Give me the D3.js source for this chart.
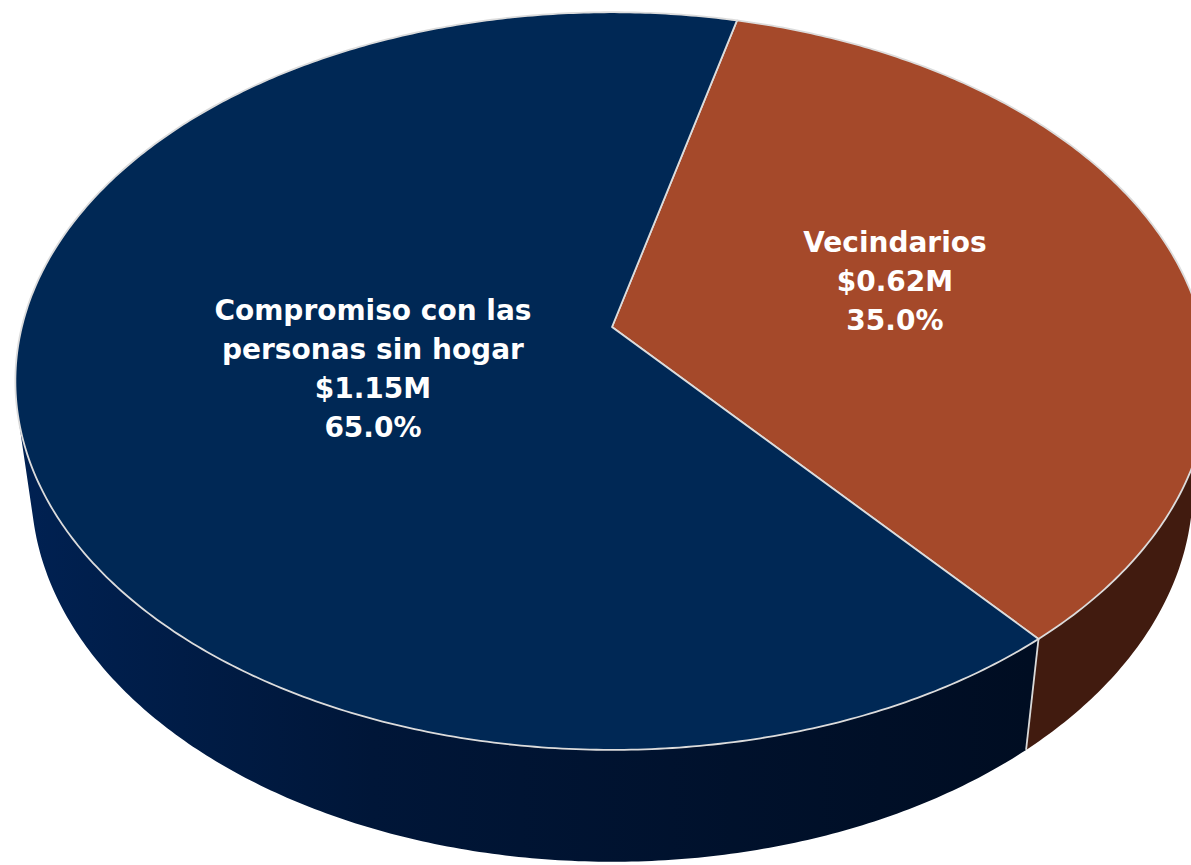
<!DOCTYPE html>
<html>
<head>
<meta charset="utf-8">
<script src="https://cdn.jsdelivr.net/npm/d3@7"></script>
<style>
  body { margin: 0; background: #fff; }
  .label { font-family: "DejaVu Sans", sans-serif; font-weight: bold; font-size: 28px; fill: #fff; }
</style>
</head>
<body>
<script>
(function(){

//chart data
var categories = ["Vecindarios", "Compromiso con las personas sin hogar"];
var labelLines = [["Vecindarios"], ["Compromiso con las", "personas sin hogar"]];
var amounts = [0.62, 1.15];          //millions of dollars
var percents = [35.0, 65.0];
var topColors = ["#a5492a", "#002855"];
var sideColors = ["#411b0f", "#001430"];

//frame
var width = 1191, height = 865;

//fake 3d camera (disk radius = 1, top face at Y = 0)
var cx = 612, cy = 327,
    focal = 3187, dist = 5.40,
    tilt = 37.7 * Math.PI / 180,
    depth = 0.235;
var sinT = Math.sin(tilt), cosT = Math.cos(tilt);

function project(X, Y, Z){
    var d = dist - Y * sinT + Z * cosT;
    var yc = Y * cosT + Z * sinT;
    return [cx + focal * X / d, cy - focal * yc / d];
}

//point on the rim at pie angle a (clockwise from the far side)
function rim(a, r, Y){
    return project(r * Math.sin(a), Y, r * Math.cos(a));
}

function arcPoints(a0, a1, r, Y){
    var n = Math.max(2, Math.ceil(Math.abs(a1 - a0) / 0.01));
    var pts = [];
    for (var i = 0; i <= n; i++){
        pts.push(rim(a0 + (a1 - a0) * i / n, r, Y));
    }
    return pts;
}

var svg = d3.select("body")
    .append("svg")
    .attr("width", width)
    .attr("height", height);

var defs = svg.append("defs");
var grad = defs.append("linearGradient")
    .attr("id", "blueSide")
    .attr("gradientUnits", "userSpaceOnUse")
    .attr("x1", 20).attr("y1", 0)
    .attr("x2", 1030).attr("y2", 0);
grad.append("stop").attr("offset", "0%").attr("stop-color", "#002152");
grad.append("stop").attr("offset", "35%").attr("stop-color", "#001638");
grad.append("stop").attr("offset", "100%").attr("stop-color", "#000d22");

var start = 14 * Math.PI / 180;
var pie = d3.pie()
    .sort(null)
    .value(function(d){ return d; })
    .startAngle(start)
    .endAngle(start + 2 * Math.PI);
var slices = pie(amounts);

var line = d3.line();

//visible part of the side wall
var limit = Math.acos(-1 / (dist * cosT));
var vis0 = limit, vis1 = 2 * Math.PI - limit;

function visibleRange(a0, a1){
    var out = null;
    [0, 2 * Math.PI, -2 * Math.PI].forEach(function(shift){
        var lo = Math.max(a0, vis0 + shift), hi = Math.min(a1, vis1 + shift);
        if (hi > lo) out = [lo, hi];
    });
    return out;
}

//side walls
slices.forEach(function(s, i){
    var rng = visibleRange(s.startAngle, s.endAngle);
    if (!rng) return;
    var pts = arcPoints(rng[0], rng[1], 1, 0)
        .concat(arcPoints(rng[1], rng[0], 1, -depth));
    svg.append("path")
        .attr("class", "side")
        .attr("d", line(pts) + "Z")
        .style("fill", i == 1 ? "url(#blueSide)" : sideColors[i]);
});

//vertical edges at slice boundaries
slices.forEach(function(s){
    var a = s.startAngle;
    [a, a + 2 * Math.PI, a - 2 * Math.PI].forEach(function(b){
        if (b > vis0 && b < vis1){
            svg.append("path")
                .attr("d", line([rim(b, 1, 0), rim(b, 1, -depth)]))
                .style("stroke", "#d9d9d9")
                .style("stroke-width", 1.8)
                .style("fill", "none");
        }
    });
});

//top faces
slices.forEach(function(s, i){
    var pts = [project(0, 0, 0)].concat(arcPoints(s.startAngle, s.endAngle, 1, 0));
    svg.append("path")
        .attr("class", "top")
        .attr("d", line(pts) + "Z")
        .style("fill", topColors[i])
        .style("stroke", "#dcdcdc")
        .style("stroke-width", 1.8)
        .style("stroke-linejoin", "round");
});

//labels
var labelRadius = [0.5, 0.41];
var labelShift = [-6, 8];
slices.forEach(function(s, i){
    var mid = (s.startAngle + s.endAngle) / 2;
    var p = rim(mid, labelRadius[i], 0);
    var lines = labelLines[i].concat(["$" + amounts[i].toFixed(2) + "M", percents[i].toFixed(1) + "%"]);
    var lh = 38.8;
    var text = svg.append("text")
        .attr("class", "label")
        .attr("text-anchor", "middle");
    lines.forEach(function(l, j){
        text.append("tspan")
            .attr("x", p[0])
            .attr("y", p[1] + labelShift[i] + (j - (lines.length - 1) / 2) * lh)
            .attr("dy", "0.35em")
            .text(l);
    });
});

})();
</script>
</body>
</html>
